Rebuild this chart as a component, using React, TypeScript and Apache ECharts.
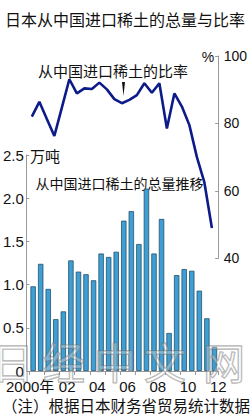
import React, { useEffect, useRef } from 'react';
import * as echarts from 'echarts';

// Half-year categories 2000H1 .. 2012H1
const categories = [
  '2000上', '2000下', '2001上', '2001下', '2002上', '2002下', '2003上', '2003下',
  '2004上', '2004下', '2005上', '2005下', '2006上', '2006下', '2007上', '2007下',
  '2008上', '2008下', '2009上', '2009下', '2010上', '2010下', '2011上', '2011下',
  '2012上',
];
// Import volume from China (10k tonnes)
const volume = [
  0.98, 1.24, 0.95, 0.6, 0.69, 1.28, 1.15, 1.12, 1.05, 1.36, 1.32, 1.38, 1.74,
  1.85, 1.47, 2.11, 1.36, 1.76, 0.44, 1.11, 1.18, 1.16, 0.93, 0.61, 0.28,
];
// Share imported from China (%)
const share = [
  82.0, 86.4, 81.3, 76.3, 84.7, 93.1, 88.9, 90.4, 90.2, 92.1, 90.1, 87.2, 86.0,
  87.0, 88.4, 91.9, 89.1, 91.9, 78.5, 88.9, 85.0, 79.5, 70.0, 62.5, 49.0,
];
const yearLabels = ['2000年', '02', '04', '06', '08', '10', '12'];
const watermark = ['日', '经', '中', '文', '网'];

const NUM_FONT = "'Liberation Sans Narrow', 'Liberation Sans', 'Noto Sans CJK SC', sans-serif";
const CJK_FONT = "'Noto Sans CJK SC', 'Noto Sans', sans-serif";

export default function App() {
  const ref = useRef<HTMLDivElement>(null);

  useEffect(() => {
    if (!ref.current) return;
    const chart = echarts.init(ref.current, undefined, { renderer: 'svg' });
    const wmX = [13, 64, 115, 165, 224];
    const option: any = {
      animation: false,
      backgroundColor: '#fff',
      grid: [
        { left: 28.1, right: 31.8, top: 155, bottom: 44 },
        { left: 28.1, right: 31.8, top: 56, height: 202.3 },
      ],
      xAxis: [
        {
          type: 'category',
          gridIndex: 0,
          data: categories,
          boundaryGap: true,
          axisLine: { show: true, lineStyle: { color: '#999', width: 1 } },
          axisTick: { show: true, interval: 1, length: 4, lineStyle: { color: '#999' } },
          axisLabel: {
            interval: 0,
            margin: 8,
            color: '#111',
            fontFamily: NUM_FONT,
            fontSize: 15,
            formatter: (_v: string, i: number) => {
              if (i === 0) return '{a|' + yearLabels[0] + '}';
              if (i % 4 === 0) return '{b|' + yearLabels[i / 4] + '}';
              return '';
            },
            rich: {
              a: { fontFamily: NUM_FONT, fontSize: 15, color: '#111', padding: [0, 6, 0, 0] },
              b: { fontFamily: NUM_FONT, fontSize: 15, color: '#111', padding: [0, 0, 0, 7.6] },
            },
          },
          splitLine: { show: false },
        },
        {
          type: 'category',
          gridIndex: 1,
          data: categories,
          boundaryGap: true,
          show: false,
        },
      ],
      yAxis: [
        {
          type: 'value',
          gridIndex: 0,
          position: 'left',
          offset: 3,
          min: 0,
          max: 2.5,
          interval: 0.5,
          axisLine: { show: true, lineStyle: { color: '#999', width: 1 } },
          axisTick: { show: true, inside: true, length: 3, lineStyle: { color: '#999' } },
          axisLabel: {
            margin: 2.5,
            color: '#111',
            fontFamily: NUM_FONT,
            fontSize: 15,
            formatter: (v: number) => (v === 0 ? '0' : v.toFixed(1)),
          },
          splitLine: { show: false },
        },
        {
          type: 'value',
          gridIndex: 1,
          position: 'right',
          offset: 2.5,
          min: 40,
          max: 100,
          interval: 20,
          axisLine: { show: true, lineStyle: { color: '#999', width: 1 } },
          axisTick: { show: true, inside: true, length: 3, lineStyle: { color: '#999' } },
          axisLabel: {
            margin: 5.5,
            color: '#111',
            fontFamily: NUM_FONT,
            fontSize: 14,
          },
          splitLine: { show: false },
        },
      ],
      series: [
        {
          type: 'bar',
          xAxisIndex: 0,
          yAxisIndex: 0,
          data: volume,
          barWidth: 5.4,
          itemStyle: { color: '#3d9fd3', borderColor: '#24506b', borderWidth: 0.8 },
        },
        {
          type: 'line',
          xAxisIndex: 1,
          yAxisIndex: 1,
          data: share,
          symbol: 'none',
          lineStyle: { color: '#0c1a8a', width: 2.6 },
          z: 5,
        },
      ],
      graphic: [
        {
          type: 'text',
          left: 'center',
          top: 11,
          style: { text: '日本从中国进口稀土的总量与比率', fontSize: 16, fontFamily: CJK_FONT, fill: '#111' },
        },
        {
          type: 'text',
          x: 208,
          y: 57,
          style: { text: '%', fontSize: 14, fontFamily: NUM_FONT, fill: '#111', align: 'center', verticalAlign: 'middle' },
        },
        {
          type: 'text',
          x: 113,
          y: 70,
          style: { text: '从中国进口稀土的比率', fontSize: 15, fontFamily: CJK_FONT, fill: '#111', align: 'center', verticalAlign: 'middle' },
        },
        {
          type: 'polygon',
          shape: { points: [[122, 82], [125, 82], [123.5, 96]] },
          style: { fill: '#111' },
        },
        {
          type: 'text',
          x: 45,
          y: 155.5,
          style: { text: '万吨', fontSize: 15, fontFamily: CJK_FONT, fill: '#111', align: 'center', verticalAlign: 'middle' },
        },
        {
          type: 'text',
          x: 119.5,
          y: 183,
          style: { text: '从中国进口稀土的总量推移', fontSize: 14, fontFamily: CJK_FONT, fill: '#111', align: 'center', verticalAlign: 'middle' },
        },
        {
          type: 'text',
          x: 126,
          y: 405,
          style: { text: '（注）根据日本财务省贸易统计数据', fontSize: 15.5, fontFamily: CJK_FONT, fill: '#111', align: 'center', verticalAlign: 'middle' },
        },
        ...watermark.map((ch, k) => ({
          type: 'text',
          x: wmX[k],
          y: 360,
          z: 100,
          silent: true,
          style: {
            text: ch,
            fontSize: 42,
            fontFamily: CJK_FONT,
            fill: 'rgba(255,255,255,0.3)',
            stroke: 'rgba(110,110,110,0.55)',
            lineWidth: 1.4,
            align: 'center',
            verticalAlign: 'middle',
          },
        })),
      ],
    };
    chart.setOption(option);
    return () => chart.dispose();
  }, []);

  return (
    <div
      ref={ref}
      style={{ position: 'fixed', left: 0, top: 0, width: 250, height: 415, background: '#fff' }}
    />
  );
}
